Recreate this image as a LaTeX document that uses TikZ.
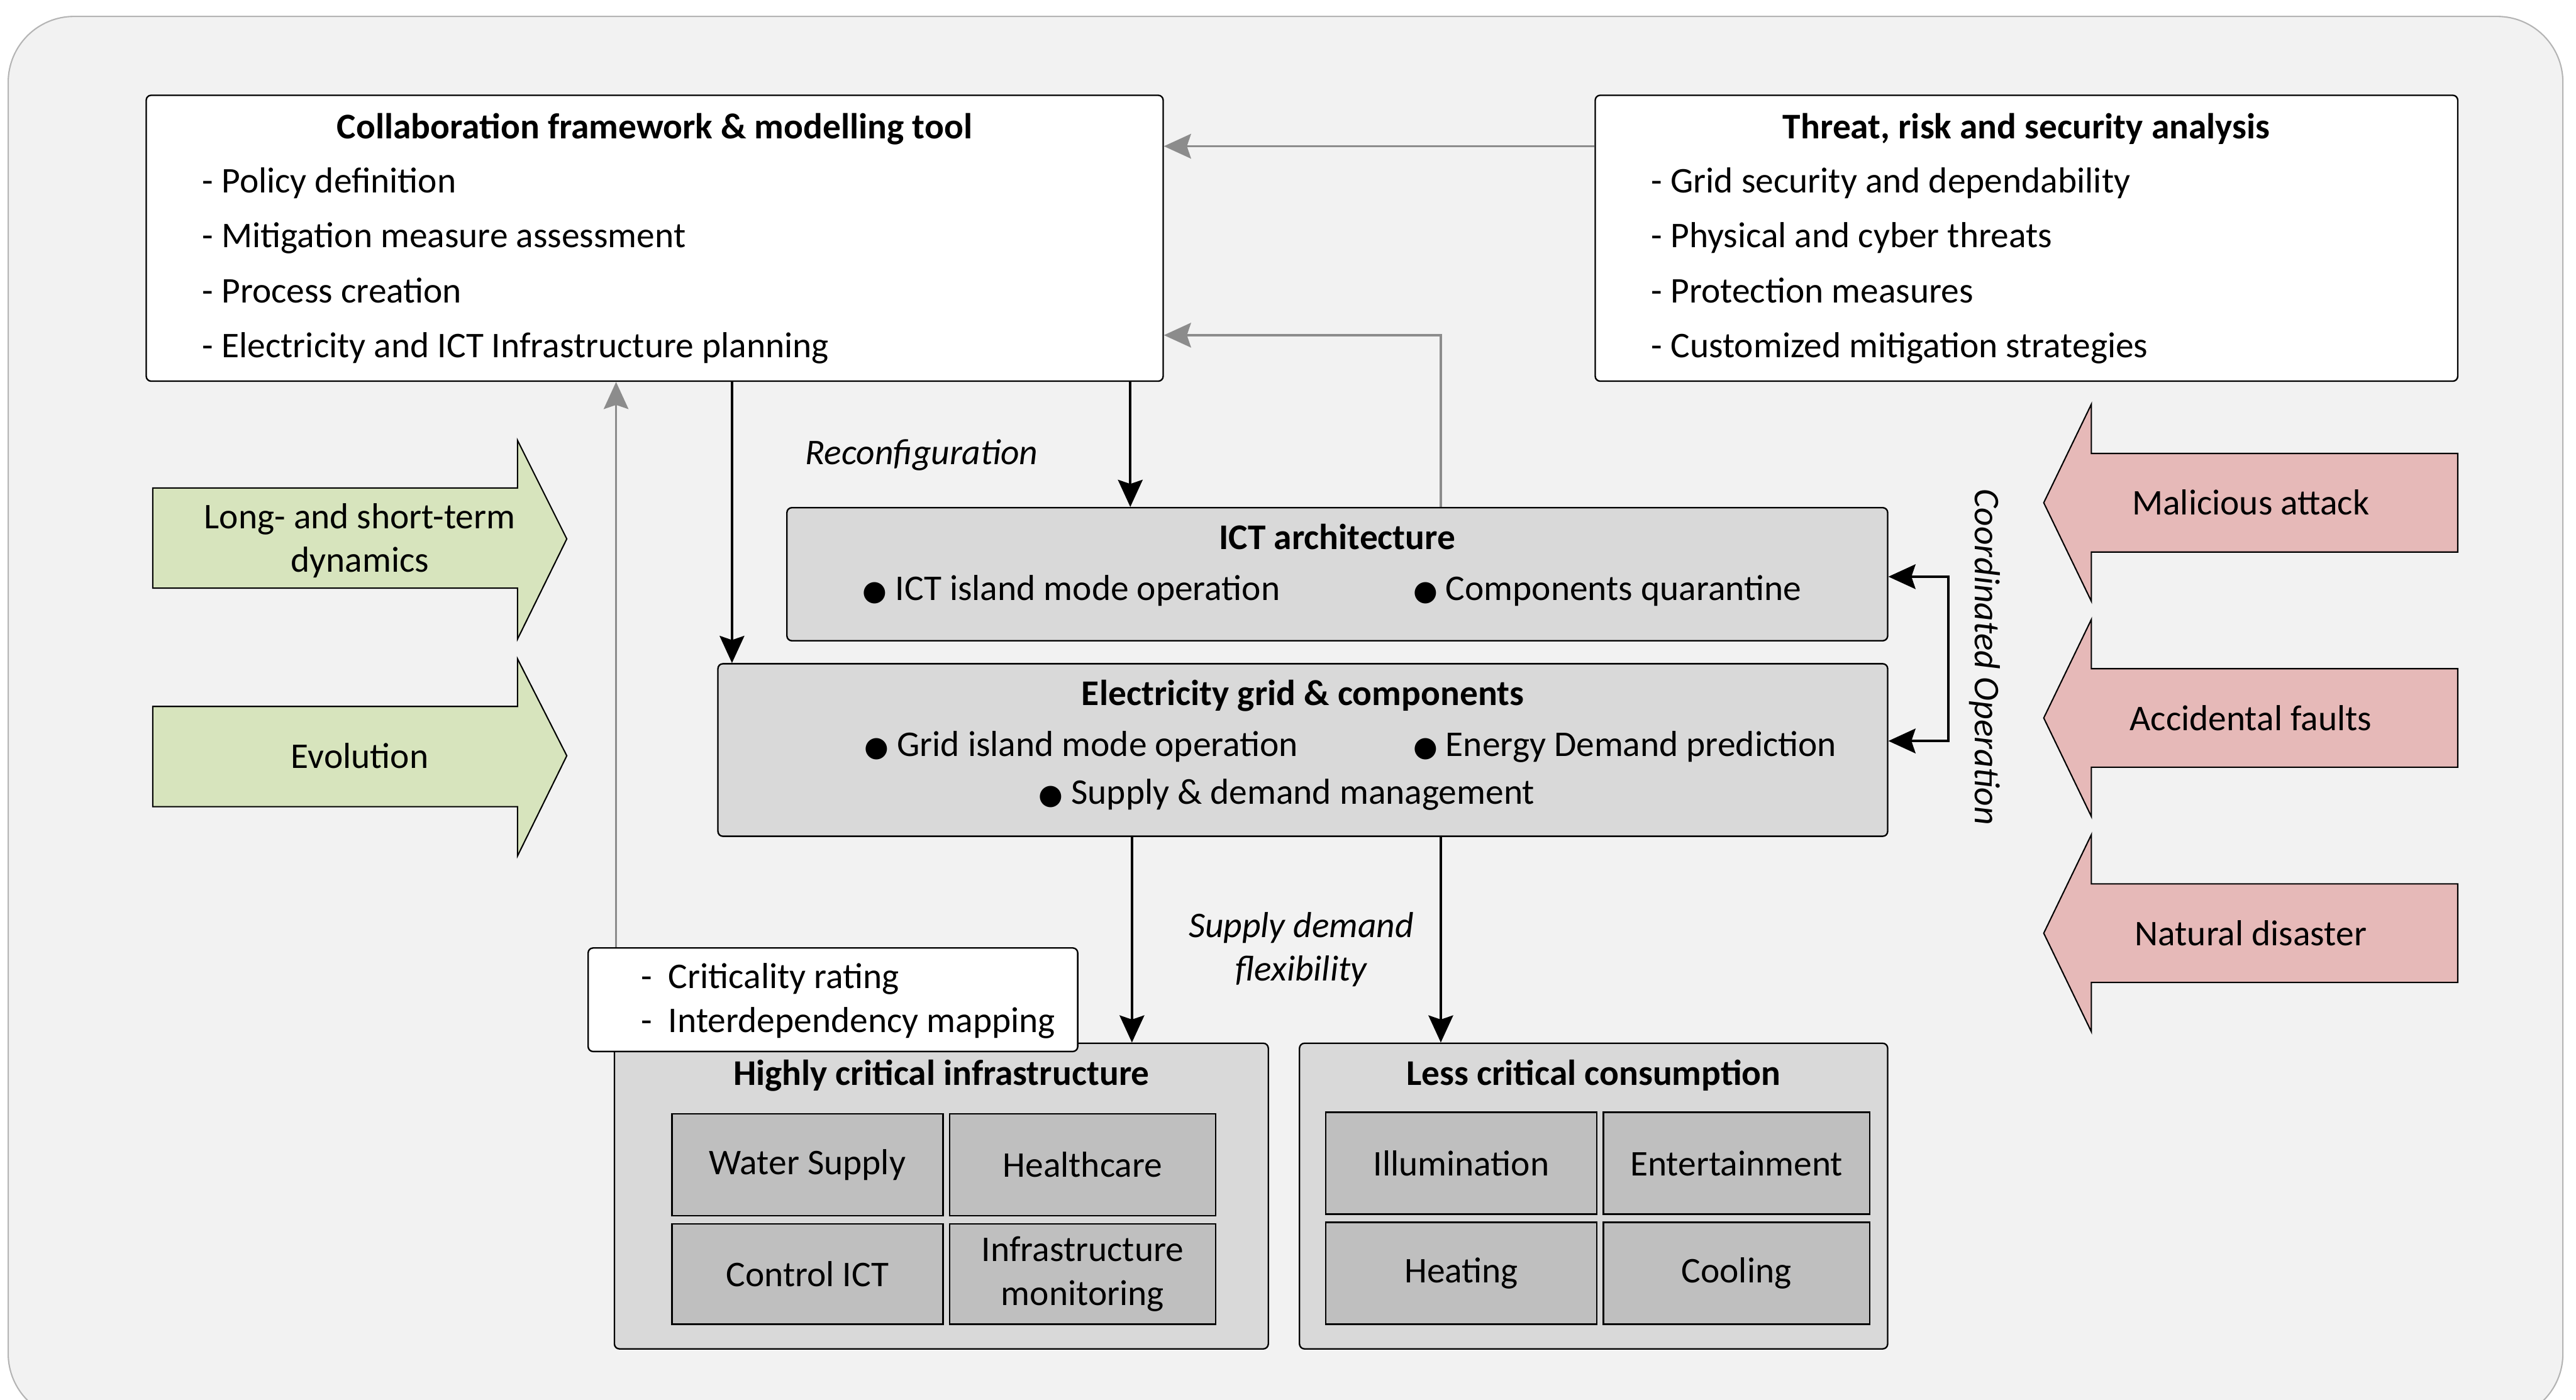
\documentclass[tikz,border=0pt]{standalone}
\usepackage{fontspec}
\setmainfont{Carlito}
\newfontfamily\symf{DejaVu Sans}
\usetikzlibrary{arrows.meta,calc}
\definecolor{bgc}{HTML}{F2F2F2}
\definecolor{boxgray}{HTML}{D9D9D9}
\definecolor{cellgray}{HTML}{BFBFBF}
\definecolor{greenf}{HTML}{D7E4BD}
\definecolor{redf}{HTML}{E6B9B8}
\definecolor{arrgray}{HTML}{8C8C8C}
\definecolor{framec}{HTML}{B4B4B4}
\newcommand\fsz{\fontsize{22}{26.5}\selectfont}
\newcommand\bul{{\symf\fontsize{17}{17}\selectfont ●}\hspace{5pt}}
\tikzset{
  box/.style={draw=black, line width=0.9pt, rounded corners=3pt, inner sep=0pt},
  whitebox/.style={box, fill=white},
  graybox/.style={box, fill=boxgray},
  cell/.style={draw=black, line width=0.9pt, fill=cellgray, align=center, inner sep=0pt, font=\fsz},
  txt/.style={inner sep=0pt, text height=18pt, text depth=3pt, font=\fsz},
  ttl/.style={txt, font=\fsz\bfseries},
  lab/.style={inner sep=0pt, font=\fsz\itshape, align=center},
  hd/.style={-{Stealth[length=16.5pt,width=15pt,inset=2.5pt]}},
  blk/.style={hd, draw=black, line width=1.5pt},
  gry/.style={hd, draw=arrgray, line width=1.3pt},
  cblk/.style={hd, draw=black, line width=1.5pt},
  bigarrow/.style={draw=black, line width=0.8pt},
}
\begin{document}
\begin{tikzpicture}[x=1pt,y=-1pt]
\useasboundingbox (0,0) rectangle (1568,852);
\draw[fill=bgc, draw=framec, line width=0.8pt, rounded corners=40pt] (5,10) rectangle (1560,864);

% main boxes
\node[whitebox, minimum width=619pt, minimum height=174pt] (collab) at (398.5,145) {};
\node[whitebox, minimum width=525pt, minimum height=174pt] (threat) at (1233.5,145) {};
\node[graybox, minimum width=670pt, minimum height=81pt] (ict) at (814,349.5) {};
\node[graybox, minimum width=712pt, minimum height=105pt] (grid) at (793,456.5) {};
\node[graybox, minimum width=398pt, minimum height=186pt] (high) at (573,728) {};
\node[graybox, minimum width=358pt, minimum height=186pt] (less) at (970,728) {};
\node[whitebox, minimum width=298pt, minimum height=63pt] (crit) at (507,608.5) {};

% collaboration box text
\node[ttl] (collabT) at (398.5,77) {Collaboration framework \& modelling tool};
\node[txt, anchor=west] (c1) at (123,110) {- Policy definition};
\node[txt, anchor=west] (c2) at (123,143) {- Mitigation measure assessment};
\node[txt, anchor=west] (c3) at (123,177) {- Process creation};
\node[txt, anchor=west] (c4) at (123,210) {- Electricity and ICT Infrastructure planning};

% threat box text
\node[ttl] (threatT) at (1233.5,77) {Threat, risk and security analysis};
\node[txt, anchor=west] (t1) at (1005,110) {- Grid security and dependability};
\node[txt, anchor=west] (t2) at (1005,143) {- Physical and cyber threats};
\node[txt, anchor=west] (t3) at (1005,177) {- Protection measures};
\node[txt, anchor=west] (t4) at (1005,210) {- Customized mitigation strategies};

% ICT architecture
\node[ttl] (ictT) at (814,327) {ICT architecture};
\node[txt, anchor=west] (i1) at (525,358) {\bul ICT island mode operation};
\node[txt, anchor=west] (i2) at (860,358) {\bul Components quarantine};

% Electricity grid
\node[ttl] (gridT) at (793,422) {Electricity grid \& components};
\node[txt, anchor=west] (g1) at (526,453) {\bul Grid island mode operation};
\node[txt, anchor=west] (g2) at (860,453) {\bul Energy Demand prediction};
\node[txt, anchor=west] (g3) at (632,482) {\bul Supply \& demand management};

% criticality
\node[txt, anchor=west] (k1) at (390,594) {-\hspace{10pt}Criticality rating};
\node[txt, anchor=west] (k2) at (390,621) {-\hspace{10pt}Interdependency mapping};

% highly critical
\node[ttl] (highT) at (573,653) {Highly critical infrastructure};
\node[cell, minimum width=165pt, minimum height=62pt] (ws) at (491.5,709) {Water Supply};
\node[cell, minimum width=162pt, minimum height=62pt] (hc) at (659,709) {Healthcare};
\node[cell, minimum width=165pt, minimum height=61pt] (ci) at (491.5,775.5) {Control ICT};
\node[cell, minimum width=162pt, minimum height=61pt] (im) at (659,775.5) {Infrastructure\\monitoring};

% less critical
\node[ttl] (lessT) at (970,653) {Less critical consumption};
\node[cell, minimum width=165pt, minimum height=62pt] (il) at (889.5,708) {Illumination};
\node[cell, minimum width=162pt, minimum height=62pt] (en) at (1057,708) {Entertainment};
\node[cell, minimum width=165pt, minimum height=62pt] (he) at (889.5,775) {Heating};
\node[cell, minimum width=162pt, minimum height=62pt] (cl) at (1057,775) {Cooling};

% labels
\node[lab] (reconf) at (561,277) {Reconfiguration};
\node[lab] (sdf) at (792,578) {Supply demand\\flexibility};
\node[lab, rotate=-90] (coord) at (1208,400) {Coordinated Operation};

% green arrows
\draw[bigarrow, fill=greenf] (93,297) -- (315,297) -- (315,268) -- (345,328) -- (315,389) -- (315,358) -- (93,358) -- cycle;
\node[font=\fsz, align=center, inner sep=0pt] (ga1) at (219,329) {Long- and short-term\\dynamics};
\draw[bigarrow, fill=greenf] (93,430) -- (315,430) -- (315,401) -- (345,460) -- (315,521) -- (315,491) -- (93,491) -- cycle;
\node[txt] (ga2) at (219,460) {Evolution};

% red arrows
\draw[bigarrow, fill=redf] (1496,276) -- (1273,276) -- (1273,246) -- (1244,306) -- (1273,366) -- (1273,336) -- (1496,336) -- cycle;
\node[txt] (ra1) at (1370,306) {Malicious attack};
\draw[bigarrow, fill=redf] (1496,407) -- (1273,407) -- (1273,377) -- (1244,437) -- (1273,497) -- (1273,467) -- (1496,467) -- cycle;
\node[txt] (ra2) at (1370,437) {Accidental faults};
\draw[bigarrow, fill=redf] (1496,538) -- (1273,538) -- (1273,508) -- (1244,568) -- (1273,628) -- (1273,598) -- (1496,598) -- cycle;
\node[txt] (ra3) at (1370,568) {Natural disaster};

% gray connectors
\draw[gry] ([yshift=56pt]threat.west) -- ([yshift=56pt]collab.east);
\draw[gry] ([xshift=63pt]ict.north) |- ([yshift=-59pt]collab.east);
\draw[gry] ([xshift=-132pt]crit.north) -- ([xshift=-132pt]crit.north |- collab.south);

% black connectors
\draw[blk] ([xshift=9pt]grid.north west |- collab.south) -- ([xshift=9pt]grid.north west);
\draw[blk] ([xshift=-126pt]ict.north |- collab.south) -- ([xshift=-126pt]ict.north);
\draw[blk] ([xshift=116pt]high.north |- grid.south) -- ([xshift=116pt]high.north);
\draw[blk] ([xshift=-93pt]less.north |- grid.south) -- ([xshift=-93pt]less.north);

% coordinated operation
\coordinate (cbar) at (1186,400);
\draw[cblk] (cbar) |- ([yshift=-1.5pt]ict.east);
\draw[cblk] (cbar) |- ([yshift=5.5pt]grid.east);
\end{tikzpicture}
\end{document}
